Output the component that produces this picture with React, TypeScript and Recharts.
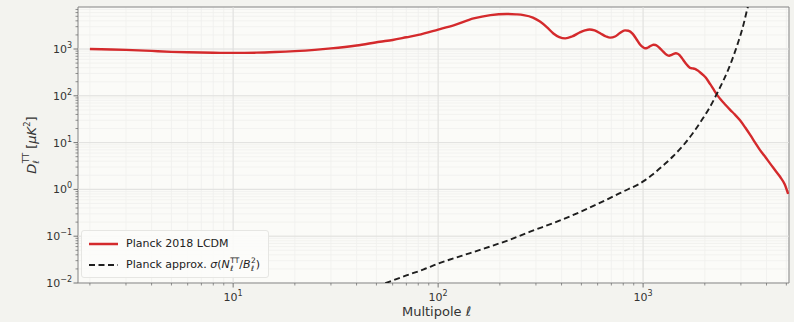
import React from "react";
import {
  CartesianGrid,
  Legend,
  Line,
  LineChart,
  ReferenceArea,
  ReferenceLine,
  XAxis,
  YAxis,
} from "recharts";

// Planck 2018 LCDM TT spectrum
const ellTheory = [
  2, 3, 4, 5, 6, 8, 10, 13, 16, 20, 25, 30, 40, 52, 60, 70, 80, 100, 120, 149,
  180, 216, 240, 261, 290, 314, 340, 365, 390, 417, 450, 490, 520, 548, 580,
  620, 660, 690, 730, 770, 816, 847, 890, 930, 966, 1000, 1023, 1045, 1070,
  1100, 1124, 1150, 1180, 1215, 1250, 1285, 1315, 1340, 1370, 1410, 1445, 1475,
  1510, 1550, 1600, 1650, 1695, 1740, 1790, 1840, 1900, 1960, 2020, 2080, 2130,
  2200, 2270, 2330, 2380, 2500, 2660, 2800, 2970, 3150, 3330, 3520, 3720, 3940,
  4160, 4400, 4660, 4900, 5100,
];
const dlTheory = [
  1000, 960, 910, 870, 850, 830, 825, 835, 860, 900, 960, 1030, 1190, 1430,
  1560, 1780, 2000, 2600, 3250, 4500, 5300, 5600, 5500, 5300, 4700, 3850, 2900,
  2150, 1800, 1690, 1850, 2250, 2500, 2620, 2500, 2150, 1850, 1750, 1850, 2200,
  2500, 2460, 2100, 1600, 1250, 1090, 1040, 1050, 1110, 1190, 1230, 1220, 1140,
  1010, 890, 790, 735, 720, 740, 790, 810, 790, 730, 630, 520, 440, 395, 385,
  375, 350, 315, 280, 245, 205, 175, 140, 113, 96, 85, 67, 50, 40, 30, 21, 14.6,
  10, 6.9, 5, 3.6, 2.6, 1.86, 1.3, 0.8,
];

// Planck noise approximation
const ellNoise = [
  50, 58, 70, 85, 100, 130, 160, 220, 281, 380, 493, 600, 716, 850, 949, 1023,
  1100, 1200, 1305, 1400, 1500, 1573, 1700, 1800, 1900, 2000, 2100, 2200, 2285,
  2380, 2480, 2600, 2700, 2800, 2915, 3050, 3206, 3350,
];
const nlNoise = [
  0.0084, 0.0107, 0.0145, 0.0195, 0.026, 0.038, 0.051, 0.082, 0.125, 0.205,
  0.33, 0.49, 0.71, 1.02, 1.28, 1.58, 2.0, 2.75, 3.8, 5.1, 7.0, 8.8, 13.5, 19,
  27, 38, 54, 78, 108, 155, 225, 360, 545, 845, 1425, 2700, 6500, 14000,
];

const xMajor = [10, 100, 1000];
const xTicks = [
  2, 3, 4, 5, 6, 7, 8, 9, 10, 20, 30, 40, 50, 60, 70, 80, 90, 100, 200, 300,
  400, 500, 600, 700, 800, 900, 1000, 2000, 3000, 4000, 5000,
];
const yMajor = [0.01, 0.1, 1, 10, 100, 1000];
const yTicks = [
  0.01, 0.02, 0.03, 0.04, 0.05, 0.06, 0.07, 0.08, 0.09, 0.1, 0.2, 0.3, 0.4, 0.5,
  0.6, 0.7, 0.8, 0.9, 1, 2, 3, 4, 5, 6, 7, 8, 9, 10, 20, 30, 40, 50, 60, 70, 80,
  90, 100, 200, 300, 400, 500, 600, 700, 800, 900, 1000, 2000, 3000, 4000, 5000,
  6000, 7000,
];

const X_DOMAIN: [number, number] = [1.75, 5150];
const Y_DOMAIN: [number, number] = [0.01, 7900];

const FONT = "'DejaVu Sans', sans-serif";
const RED = "#d42a2c";
const DARK = "#1e1e1e";
const TEXT = "#333333";

const theoryData = ellTheory.map((ell, i) => ({ ell, dl: dlTheory[i] }));
const noiseData = ellNoise.map((ell, i) => ({ ell, nl: nlNoise[i] }));

function expLabel(v: number) {
  const e = Math.round(Math.log10(v));
  return e < 0 ? "\u2212" + Math.abs(e) : String(e);
}

function XTick(props: any) {
  const { x, y, payload } = props;
  const major = xMajor.includes(payload.value);
  return (
    <g>
      <line
        x1={x}
        x2={x}
        y1={y}
        y2={y + (major ? 4.5 : 2.5)}
        stroke="#666"
        strokeWidth={major ? 0.9 : 0.7}
      />
      {major && (
        <text
          x={x}
          y={y + 18}
          textAnchor="middle"
          fontFamily={FONT}
          fontSize={11}
          fill={TEXT}
        >
          10
          <tspan dy={-5} fontSize={8}>
            {expLabel(payload.value)}
          </tspan>
        </text>
      )}
    </g>
  );
}

function YTick(props: any) {
  const { x, y, payload } = props;
  const major = yMajor.includes(payload.value);
  return (
    <g>
      <line
        x1={x - (major ? 4.5 : 2.5)}
        x2={x}
        y1={y}
        y2={y}
        stroke="#666"
        strokeWidth={major ? 0.9 : 0.7}
      />
      {major && (
        <text
          x={x - 6}
          y={y + 4}
          textAnchor="end"
          fontFamily={FONT}
          fontSize={11}
          fill={TEXT}
        >
          10
          <tspan dy={-5} fontSize={8}>
            {expLabel(payload.value)}
          </tspan>
        </text>
      )}
    </g>
  );
}

function SubSup({ sub, sup }: { sub: string; sup: string }) {
  return (
    <span
      style={{
        display: "inline-flex",
        flexDirection: "column",
        fontSize: 7.5,
        lineHeight: "8px",
        verticalAlign: "5px",
        marginLeft: 0.5,
      }}
    >
      <span>{sup}</span>
      <span style={{ fontStyle: "italic" }}>{sub}</span>
    </span>
  );
}

function LegendBox() {
  return (
    <div
      style={{
        background: "rgba(252,252,250,0.9)",
        border: "1px solid #e6e6e3",
        borderRadius: 3,
        padding: "2px 8px 2px 6px",
        fontFamily: FONT,
        fontSize: 11,
        color: "#222",
        whiteSpace: "nowrap",
      }}
    >
      <div style={{ display: "flex", alignItems: "center", height: 21 }}>
        <svg width={31} height={8}>
          <line x1={1} x2={30} y1={4} y2={4} stroke={RED} strokeWidth={2.5} />
        </svg>
        <span style={{ marginLeft: 7 }}>Planck 2018 LCDM</span>
      </div>
      <div style={{ display: "flex", alignItems: "center", height: 21 }}>
        <svg width={31} height={8}>
          <line
            x1={1}
            x2={30}
            y1={4}
            y2={4}
            stroke={DARK}
            strokeWidth={2}
            strokeDasharray="6 3.5"
          />
        </svg>
        <span style={{ marginLeft: 7 }}>
          Planck approx. <i>σ</i>(<i>N</i>
          <SubSup sub="ℓ" sup="TT" />/<i>B</i>
          <SubSup sub="ℓ" sup="2" />)
        </span>
      </div>
    </div>
  );
}

function YLabel(props: any) {
  const vb = props.viewBox || { x: 0, y: 7, height: 276 };
  const cx = 32;
  const cy = vb.y + vb.height / 2;
  return (
    <text
      x={cx}
      y={cy}
      transform={`rotate(-90 ${cx} ${cy})`}
      textAnchor="middle"
      dominantBaseline="middle"
      fontFamily={FONT}
      fontSize={13}
      fill={TEXT}
    >
      <tspan fontStyle="italic">D</tspan>
      <tspan fontSize={8.5} dy={4} fontStyle="italic">
        ℓ
      </tspan>
      <tspan fontSize={8.5} dx={-3} dy={-10}>
        TT
      </tspan>
      <tspan dy={6}> [</tspan>
      <tspan fontStyle="italic">μK</tspan>
      <tspan fontSize={8.5} dy={-5}>
        2
      </tspan>
      <tspan dy={5}>]</tspan>
    </text>
  );
}

function XLabel(props: any) {
  const vb = props.viewBox || { x: 78, width: 711, y: 283 };
  return (
    <text
      x={vb.x + vb.width / 2 + 3}
      y={316}
      textAnchor="middle"
      fontFamily={FONT}
      fontSize={13}
      fill={TEXT}
    >
      Multipole <tspan fontStyle="italic">ℓ</tspan>
    </text>
  );
}

export default function App() {
  return (
    <div
      style={{
        position: "absolute",
        left: 0,
        top: 0,
        width: 794,
        height: 322,
        background: "#f3f3ef",
      }}
    >
      <LineChart
        width={794}
        height={322}
        margin={{ top: 7, right: 5, left: 0, bottom: 0 }}
      >
        <CartesianGrid fill="#fbfbf8" stroke="#f0f0ed" strokeWidth={0.8} />
        <XAxis
          dataKey="ell"
          type="number"
          scale="log"
          domain={X_DOMAIN}
          allowDataOverflow
          ticks={xTicks}
          interval={0}
          height={39}
          tickSize={0}
          tickMargin={0}
          tickLine={false}
          axisLine={false}
          tick={XTick}
          label={{ content: XLabel }}
        />
        <YAxis
          type="number"
          scale="log"
          domain={Y_DOMAIN}
          allowDataOverflow
          ticks={yTicks}
          interval={0}
          width={78}
          tickSize={0}
          tickMargin={0}
          tickLine={false}
          axisLine={false}
          tick={YTick}
          label={{ content: YLabel }}
        />
        {xMajor.map((v) => (
          <ReferenceLine key={"x" + v} x={v} stroke="#dfdfdc" strokeWidth={0.9} />
        ))}
        {yMajor.slice(1).map((v) => (
          <ReferenceLine key={"y" + v} y={v} stroke="#dfdfdc" strokeWidth={0.9} />
        ))}
        <Line
          data={theoryData}
          dataKey="dl"
          name="Planck 2018 LCDM"
          type="monotone"
          stroke={RED}
          strokeWidth={2.4}
          dot={false}
          isAnimationActive={false}
        />
        <Line
          data={noiseData}
          dataKey="nl"
          name="Planck approx."
          type="monotone"
          stroke={DARK}
          strokeWidth={1.9}
          strokeDasharray="6 3.5"
          dot={false}
          isAnimationActive={false}
        />
        <ReferenceArea
          x1={X_DOMAIN[0]}
          x2={X_DOMAIN[1]}
          y1={Y_DOMAIN[0]}
          y2={Y_DOMAIN[1]}
          ifOverflow="visible"
          fill="none"
          stroke="#858585"
          strokeWidth={1}
        />
        <Legend
          layout="vertical"
          align="center"
          verticalAlign="middle"
          content={() => <LegendBox />}
          wrapperStyle={{ left: 81, top: 230, width: "auto", height: "auto" }}
        />
      </LineChart>
    </div>
  );
}
